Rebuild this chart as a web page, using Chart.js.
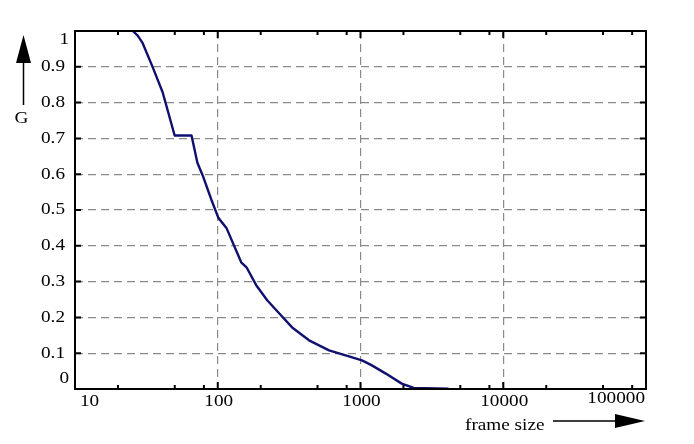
<!DOCTYPE html>
<html>
<head>
<meta charset="utf-8">
<script src="https://cdn.jsdelivr.net/npm/chart.js@4.4.1/dist/chart.umd.min.js"></script>
<style>
  body { margin: 0; background: #fff; }
  #wrap { width: 694px; height: 444px; }
</style>
</head>
<body>
<div id="wrap"><canvas id="c1"></canvas></div>
<script>
// curve
var frameSize = [25.4, 27.5, 29.8, 35.0, 41.1, 49.9, 65.5, 72.0, 78.2, 90.4, 101, 115, 146, 159, 186, 222, 270, 332, 436, 602, 830, 1024, 1202, 1504, 1944, 2360, 4140];
var gValues   = [1.0, 0.987, 0.966, 0.899, 0.829, 0.708, 0.708, 0.632, 0.598, 0.528, 0.478, 0.450, 0.354, 0.340, 0.290, 0.248, 0.211, 0.172, 0.136, 0.108, 0.091, 0.080, 0.066, 0.043, 0.015, 0.003, 0.001];

var xTicks = [10, 100, 1000, 10000, 100000];
var xTickLabels = ['10', '100', '1000', '10000', '100000'];
var xMinorSteps = [2, 5, 8];
var yTicks = [0, 0.1, 0.2, 0.3, 0.4, 0.5, 0.6, 0.7, 0.8, 0.9, 1];
var yTickLabels = ['0', '0.1', '0.2', '0.3', '0.4', '0.5', '0.6', '0.7', '0.8', '0.9', '1'];

var points = frameSize.map(function (f, i) { return { x: f, y: gValues[i] }; });

var FONT = '17px "Liberation Serif", "Times New Roman", serif';
var SX = 1.13;

function stretchText(ctx, txt, x, y, align, base) {
    ctx.save();
    ctx.translate(x, y);
    ctx.scale(SX, 1);
    ctx.textAlign = align;
    ctx.textBaseline = base;
    ctx.fillText(txt, 0, 0);
    ctx.restore();
}

var framePlugin = {
    id: 'frame',
    afterDraw: function (chart) {
        var ctx = chart.ctx;
        var a = chart.chartArea;
        var xs = chart.scales.x, ys = chart.scales.y;
        ctx.save();
        ctx.strokeStyle = '#000';
        ctx.lineWidth = 2;
        ctx.strokeRect(a.left, a.top, a.right - a.left, a.bottom - a.top);

        // tick marks, pointing inward
        ctx.beginPath();
        xTicks.forEach(function (d, i) {
            var px = xs.getPixelForValue(d);
            if (i > 0 && i < xTicks.length - 1) {
                ctx.moveTo(px, a.bottom); ctx.lineTo(px, a.bottom - 7);
                ctx.moveTo(px, a.top); ctx.lineTo(px, a.top + 7);
            }
            if (i < xTicks.length - 1) {
                xMinorSteps.forEach(function (m) {
                    var p = xs.getPixelForValue(d * m);
                    ctx.moveTo(p, a.bottom); ctx.lineTo(p, a.bottom - 4);
                    ctx.moveTo(p, a.top); ctx.lineTo(p, a.top + 4);
                });
            }
        });
        yTicks.forEach(function (v, i) {
            if (i === 0 || i === yTicks.length - 1) return;
            var py = ys.getPixelForValue(v);
            ctx.moveTo(a.right, py); ctx.lineTo(a.right - 6, py);
            ctx.moveTo(a.left, py); ctx.lineTo(a.left + 6, py);
        });
        ctx.stroke();

        // tick labels
        ctx.fillStyle = '#000';
        ctx.font = FONT;
        yTicks.forEach(function (v, i) {
            var py = ys.getPixelForValue(v);
            var txt = yTickLabels[i];
            if (i === 0) py -= 10;
            if (i === yTicks.length - 1) py += 8.5;
            stretchText(ctx, txt, txt.length === 1 ? a.left - 6 : a.left - 10, py, 'right', 'middle');
        });
        xTicks.forEach(function (v, i) {
            var px = xs.getPixelForValue(v);
            if (i === 0) {
                stretchText(ctx, xTickLabels[i], px + 5, a.bottom + 13, 'left', 'middle');
            } else if (i === xTicks.length - 1) {
                stretchText(ctx, xTickLabels[i], px - 1, a.bottom + 10, 'right', 'middle');
            } else {
                stretchText(ctx, xTickLabels[i], px + 1, a.bottom + 13, 'center', 'middle');
            }
        });

        // axis titles with arrows
        stretchText(ctx, 'G', 21.5, 119, 'center', 'middle');
        stretchText(ctx, 'frame size', 465, 430, 'left', 'alphabetic');

        ctx.beginPath();
        ctx.lineWidth = 1.5;
        ctx.moveTo(23.5, 105); ctx.lineTo(23.5, 60);
        ctx.moveTo(553, 421); ctx.lineTo(618, 421);
        ctx.stroke();
        ctx.beginPath();
        ctx.moveTo(23.5, 35); ctx.lineTo(31, 63); ctx.lineTo(16, 63); ctx.closePath();
        ctx.moveTo(645, 421); ctx.lineTo(615, 414); ctx.lineTo(615, 428); ctx.closePath();
        ctx.fill();
        ctx.restore();
    }
};

var chart = new Chart(document.getElementById('c1'), {
    type: 'line',
    data: {
        datasets: [{
            label: 'G',
            data: points,
            borderColor: '#10106e',
            borderWidth: 2.4,
            pointRadius: 0,
            tension: 0,
            borderJoinStyle: 'round',
            fill: false
        }]
    },
    options: {
        responsive: true,
        maintainAspectRatio: false,
        animation: false,
        layout: { padding: { left: 75, top: 31, right: 48, bottom: 55 } },
        plugins: {
            legend: { display: false },
            tooltip: { enabled: false }
        },
        scales: {
            x: {
                type: 'logarithmic',
                min: 10,
                max: 100000,
                afterBuildTicks: function (scale) {
                    scale.ticks = xTicks.map(function (v) { return { value: v }; });
                },
                ticks: { display: false },
                grid: {
                    drawTicks: false,
                    lineWidth: 1.2,
                    color: function (c) {
                        var v = c.tick && c.tick.value;
                        return (v === 10 || v === 100000) ? 'rgba(0,0,0,0)' : '#8a8a8a';
                    }
                },
                border: { display: false, dash: [8, 5] }
            },
            y: {
                type: 'linear',
                min: 0,
                max: 1,
                afterBuildTicks: function (scale) {
                    scale.ticks = yTicks.map(function (v) { return { value: v }; });
                },
                ticks: { display: false },
                grid: {
                    drawTicks: false,
                    lineWidth: 1.2,
                    color: function (c) {
                        var v = c.tick && c.tick.value;
                        return (v === 0 || v === 1) ? 'rgba(0,0,0,0)' : '#8a8a8a';
                    }
                },
                border: { display: false, dash: [8, 5] }
            }
        }
    },
    plugins: [framePlugin]
});
</script>
</body>
</html>
